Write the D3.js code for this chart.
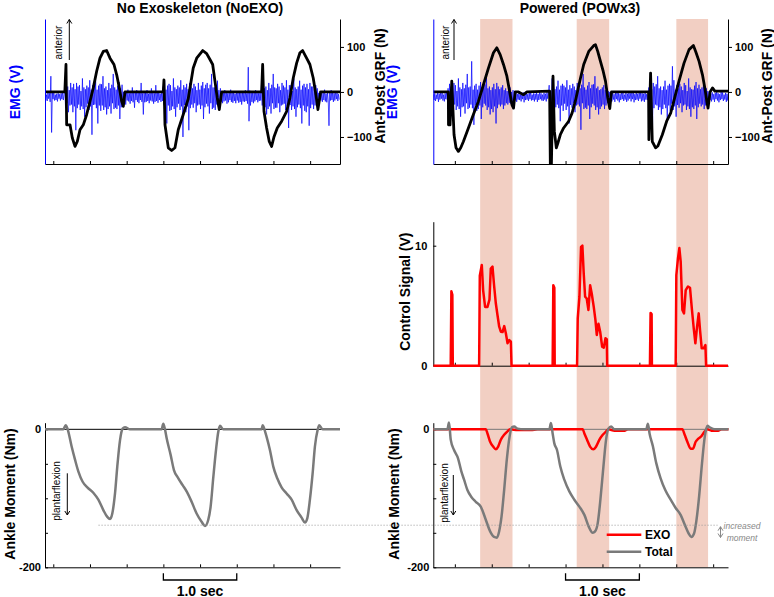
<!DOCTYPE html>
<html><head><meta charset="utf-8">
<script src="https://cdn.jsdelivr.net/npm/d3@7"></script>
<style>
body{margin:0;background:#fff;}
svg{display:block;font-family:"Liberation Sans",Arial,Helvetica,sans-serif;}
</style></head><body>
<svg id="c" width="774" height="597"></svg>
<script>
// ---------------- DATA ----------------
const panelTitles = ["No Exoskeleton (NoEXO)", "Powered (POWx3)"];
const tickTimesL = [0.113,0.613,1.113,1.613,2.113,2.613,3.113,3.613];
const tickTimesR = [0.292,0.792,1.292,1.792,2.292,2.792,3.292,3.792];
const grfTicks = [100,0,-100];
const ctrlTicks = [0,10];
const momentTicks = [0,-50,-100,-150,-200];
const momentTickLabels = ["0","","","","-200"];
const powerBands = [[0.635,1.073],[1.943,2.383],[3.293,3.723]];
const emgStep = 0.01;

// EMG (arbitrary units), one sample per 0.01 s
const emgNoExo = [
 6,-8,4,-10,9,-5,7,-12,45,-80, 8,-6,11,-9,4,-8,6,-11,7,-5, 5,-9,7,-6,10,-8,4,
 18,-25,28,-15,22,-35,14,-20,30,-18, 20,-35,28,-22,16,-75,30,-26,22,-18,
 25,-30,12,-22,40,-28,20,-45,16,-24, 24,-16,20,-30,36,-22,15,-85,25,-19,
 22,-18,35,-26,15,-60,24,-20,28,-32, 27,-20,45,-30,18,-24,22,-40,14,-28,
 30,-22,18,-38,26,-15,50,-28,20,-25, 15,-28,24,-20,32,-50,18,-24,26,-16,
 10,-14,8,-18,12,-9,15,-11,7,-16, 12,-10,20,-13,9,-25,11,-8,14,-12,
 9,-15,11,-8,30,-12,7,-40,10,-13, 8,-12,14,-10,6,-15,12,-9,18,-11,
 10,-16,7,-12,25,-10,9,-14,11,-8, 6,-12,9,-10,
 22,-18,35,-26,15,-60,24,-20,28,-32, 25,-30,12,-22,40,-28,20,-45,16,-24,
 24,-16,20,-30,36,-22,15,-90,25,-19, 20,-35,28,-22,16,-75,30,-26,22,-18,
 18,-25,28,-15,22,-35,14,-20,30,-18, 15,-28,24,-20,32,-50,18,-24,26,-16,
 30,-22,18,-38,26,-15,50,-28,20,-25, 20,-30,26,-18,35,-22,14,-26,18,
 -12,10,-15,8,-11,14,-9,12,-16,7, -13,10,-8,15,-12,9,-14,11,-10,6,
 -15,12,-9,10,-14,8,-12,11,-18,10, -11,9,-12,14,-10,7,-16,65,-55,13,
 -20,8,-12,10,-15,9,-11,14,-8,12, -13,7,-10,12,-9,
 27,-20,45,-30,18,-24,22,-40,14,-28, 30,-22,18,-38,26,-15,50,-28,20,-25,
 18,-25,28,-15,22,-35,14,-20,30,-18, 24,-16,20,-30,36,-22,15,-70,25,-19,
 25,-30,12,-22,40,-28,20,-45,16,-24, 22,-18,35,-26,15,-60,24,-20,28,-32,
 20,-35,28,-22,16,-65,30,-26,22,-18, 22,-28,16,-20,25,-15,18,
 -10,8,-14,12,-9,7,-12,10,-8,15, -11,6,-13,9,-10,-65,12,-9,14,-8,
 10,-12,7,-9,11,-6,8,-10,5,-7];
const emgPow = [
 5,-8,7,-10,4,-6,9,-12,6,-7, 8,-5,10,-9,4,-11,7,-6,9,-8,
 18,-25,28,-15,22,-35,14,-20,30,-18, 25,-30,12,-22,40,-28,20,-45,16,-24,
 30,-22,18,-38,26,-15,50,-28,20,-25, 22,-18,78,-26,15,-63,24,-20,28,-32,
 15,-28,24,-20,32,-50,18,-24,26,-16, 27,-20,45,-30,18,-24,22,-40,14,-28,
 20,-35,28,-22,16,-60,30,-26,22,-18, 16,-22,20,-18,25,-28,14,-20,18,-15,
 12,-18,15,-14,20,-16,10,-13,14,-11,
 6,-9,8,-12,5,-7,10,-8,4,-11, 7,-6,9,-13,6,-8,11,-7,5,-10,
 8,-6,12,-9,4,-8,7,-11,6,-7, 9,-12,5,-8,10,-6,7,-9,4,-10, 8,-7,6,-11,9,-5,7,
 25,-30,12,-22,40,-28,20,-45,16,-24, 22,-18,35,-26,15,-55,24,-20,28,-32,
 24,-16,20,-30,36,-22,15,-60,25,-19, 18,-25,28,-15,22,-35,14,-20,30,-18,
 30,-22,18,-74,26,-15,50,-28,20,-25, 15,-28,24,-20,32,-50,18,-24,26,-16,
 27,-20,45,-30,18,-24,22,-40,14,-28, 16,-22,20,-18,25,-28,14,-20,18,-15, 12,-16,10,
 -8,6,-11,9,-7,5,-12,8,-6,10, -9,7,-13,5,-8,11,-6,9,-10,4,
 -7,8,-12,6,-9,10,-5,7,-11,8, -6,9,-13,5,-8,12,-7,6,-10,9,
 -5,8,-11,7,-9,6,-12,10,-7,5, -8,6,
 20,-35,28,-22,16,-70,30,-26,22,-18, 27,-20,45,-30,18,-24,22,-40,14,-28,
 22,-18,35,-26,15,-55,24,-20,28,-32, 24,-16,67,-30,36,-22,15,-45,25,-19,
 18,-25,28,-15,22,-35,14,-20,30,-18, 25,-30,12,-22,40,-28,20,-45,16,-24,
 15,-28,24,-20,32,-50,18,-24,26,-16, 16,-22,20,-18,25,-28,14,-20,18,-15, 12,-16,10,
 -8,6,-11,9,-7,5,-12,8,-6,10, -9,7,-13,5,-8,11,-6,9,-10,4, -7,8,-12,6,-9,7];

// Ant-Post GRF (N): [time s, value]
const grfNoExo = [[0,0],[0.27,0],[0.286,61],[0.295,-73],[0.341,-73],[0.372,-102],[0.409,-121],[0.44,-110],[0.477,-84],[0.522,-73],[0.568,-50],[0.613,-21],[0.658,9],[0.704,46],[0.749,75],[0.795,90],[0.84,92],[0.886,75],[0.94,61],[0.977,38],[1.013,9],[1.045,-21],[1.067,-32],[1.09,0],
 [1.612,0],[1.621,27],[1.635,-73],[1.68,-124],[1.726,-130],[1.771,-124],[1.816,-84],[1.884,-50],[1.952,-15],[2.02,53],[2.067,75],[2.149,92],[2.203,85],[2.248,72],[2.285,61],[2.316,24],[2.347,-13],[2.375,-39],[2.407,0],
 [2.952,0],[2.966,61],[2.984,-43],[3.02,-80],[3.056,-110],[3.088,-121],[3.12,-100],[3.165,-80],[3.225,-65],[3.293,-43],[3.338,-13],[3.383,31],[3.429,64],[3.474,87],[3.511,92],[3.565,75],[3.61,61],[3.655,31],[3.692,-6],[3.719,-39],[3.756,0],[4.02,0]];
const grfPow = [[0,0],[0.204,0],[0.206,-73],[0.227,-73],[0.25,24],[0.264,-30],[0.281,-95],[0.308,-124],[0.34,-132],[0.372,-124],[0.408,-110],[0.476,-80],[0.543,-50],[0.611,-21],[0.679,16],[0.747,53],[0.815,87],[0.861,98],[0.906,83],[0.951,61],[0.997,35],[1.033,2],[1.065,-28],[1.087,-36],[1.11,0],[1.155,0],[1.223,-6],[1.269,0],
 [1.576,2],[1.586,-165],[1.6,-165],[1.622,35],[1.64,-87],[1.667,-124],[1.685,-115],[1.721,-95],[1.766,-80],[1.834,-65],[1.88,-47],[1.925,-20],[1.966,10],[1.993,30],[2.038,61],[2.106,90],[2.174,103],[2.197,105],[2.228,90],[2.265,68],[2.302,46],[2.333,24],[2.364,-13],[2.391,-37],[2.414,0],
 [2.917,0],[2.921,-106],[2.944,42],[2.967,-110],[3.012,-124],[3.043,-120],[3.103,-95],[3.162,-65],[3.216,-47],[3.27,-13],[3.329,24],[3.397,64],[3.465,94],[3.524,103],[3.555,90],[3.601,68],[3.647,38],[3.679,9],[3.706,-21],[3.723,-36],[3.75,0],[3.783,9],[3.815,2],[4.0,2]];

// Control signal (V)
const ctrlPow = [[0,0],[0.236,0],[0.245,6.2],[0.258,5.9],[0.264,0],
 [0.621,0],[0.63,7.5],[0.657,8.4],[0.675,6.3],[0.702,4.9],[0.734,4.9],[0.761,5.5],[0.779,8.1],[0.802,8.25],[0.825,6.6],[0.847,5.2],[0.87,4.2],[0.893,3.25],[0.915,2.83],[0.938,2.8],[0.961,3.3],[0.983,2.7],[1.006,1.87],[1.029,2.14],[1.051,2.0],[1.06,0],
 [1.617,0],[1.626,6.7],[1.64,6.5],[1.645,0],
 [1.948,0],[1.957,3.95],[1.98,5.75],[2.002,9.9],[2.02,10.0],[2.038,7.7],[2.057,5.75],[2.079,5.6],[2.102,4.64],[2.125,6.7],[2.147,6.0],[2.174,4.9],[2.197,3.8],[2.215,2.56],[2.238,3.5],[2.261,2.83],[2.288,1.58],[2.31,1.5],[2.333,2.28],[2.351,2.2],[2.356,0],
 [2.935,0],[2.944,4.4],[2.958,4.3],[2.962,0],
 [3.284,0],[3.293,7.55],[3.315,8.95],[3.334,9.8],[3.352,8.67],[3.375,4.64],[3.397,4.36],[3.42,6.3],[3.451,6.6],[3.478,6.5],[3.505,4.64],[3.529,3.1],[3.551,1.87],[3.574,3.25],[3.596,4.36],[3.614,2.97],[3.637,1.45],[3.664,1.45],[3.687,1.72],[3.696,0],[4.0,0]];

// Ankle moment (Nm)
const momentNoExo = [[0,0],[0.25,0],[0.282,6],[0.309,0],[0.363,-25],[0.409,-44],[0.454,-61],[0.513,-76],[0.577,-84],[0.658,-92],[0.727,-102],[0.795,-117],[0.849,-127],[0.886,-130],[0.917,-122],[0.954,-93],[0.985,-54],[1.022,-16],[1.058,1],[1.09,3],[1.158,0],
 [1.589,0],[1.612,8],[1.635,0],[1.658,-13],[1.712,-37],[1.757,-59],[1.817,-71],[1.876,-81],[1.93,-90],[1.998,-105],[2.066,-122],[2.134,-134],[2.18,-140],[2.225,-131],[2.257,-112],[2.294,-69],[2.33,-30],[2.362,-3],[2.384,5],[2.43,0],
 [2.952,0],[2.966,6],[2.99,0],[3.02,-11],[3.065,-30],[3.111,-54],[3.165,-71],[3.224,-84],[3.292,-93],[3.361,-102],[3.429,-117],[3.497,-128],[3.542,-135],[3.574,-129],[3.61,-102],[3.647,-64],[3.678,-25],[3.715,-1],[3.737,6],[3.783,0],[4.02,0]];
const totalPow = [[0,0],[0.19,0],[0.213,10],[0.236,-15],[0.281,-30],[0.335,-42],[0.38,-61],[0.417,-73],[0.462,-88],[0.516,-98],[0.575,-105],[0.643,-112],[0.711,-131],[0.77,-148],[0.824,-156],[0.861,-157],[0.892,-148],[0.924,-127],[0.96,-88],[0.996,-44],[1.033,-11],[1.064,3],[1.096,4],[1.141,1],[1.232,0],
 [1.572,0],[1.594,9],[1.617,-6],[1.639,-20],[1.676,-30],[1.721,-54],[1.775,-73],[1.843,-90],[1.911,-102],[1.979,-112],[2.047,-124],[2.106,-141],[2.16,-150],[2.192,-148],[2.228,-136],[2.264,-102],[2.305,-54],[2.341,-15],[2.373,1],[2.409,4],[2.455,0],
 [2.885,0],[2.908,8],[2.93,-6],[2.976,-25],[3.021,-49],[3.08,-71],[3.143,-88],[3.216,-102],[3.284,-114],[3.351,-124],[3.406,-138],[3.46,-151],[3.496,-156],[3.533,-151],[3.564,-133],[3.601,-98],[3.641,-49],[3.678,-11],[3.714,5],[3.745,3],[3.813,0],[4.0,0]];
const exoPow = [[0,0],[0.711,0],[0.734,-6],[0.77,-18],[0.811,-25],[0.847,-29],[0.879,-25],[0.915,-15],[0.96,-8],[1.005,-3],[1.042,0],[1.141,-1],[1.322,-1],[1.413,0],
 [2.024,0],[2.047,-6],[2.083,-15],[2.124,-25],[2.169,-29],[2.206,-25],[2.251,-15],[2.296,-8],[2.341,-3],[2.373,0],[2.455,-2],[2.591,-2],[2.636,0],
 [3.374,0],[3.406,-8],[3.442,-18],[3.487,-28],[3.519,-28],[3.555,-18],[3.587,-14],[3.632,-10],[3.678,-3],[3.714,0],[3.768,-2],[3.859,-2],[3.904,0],[4.0,0]];
const dottedRef = -139;

// ---------------- CHART ----------------
const svg = d3.select("#c");
const BLUE = "#0000ff", RED = "#ff0000", GREY = "#7a7a7a", BAND = "#f2cfc3";

const xL = d3.scaleLinear().domain([0,4.02]).range([45,340]);
const xR = d3.scaleLinear().domain([0,3.993]).range([433.3,728]);
const yGrf = d3.scaleLinear().domain([-160,162]).range([164,19]);
const yEmg = d3.scaleLinear().domain([-150,172]).range([164,19]);
const yCtrl = d3.scaleLinear().domain([0,12]).range([365.7,221.7]);
const yMom = d3.scaleLinear().domain([-200,9.6]).range([567.3,422.7]);

// bands
svg.append("g").selectAll("rect").data(powerBands).join("rect")
  .attr("x", d => xR(d[0])).attr("width", d => xR(d[1]) - xR(d[0]))
  .attr("y", yGrf.range()[1]).attr("height", yMom.range()[0] - yGrf.range()[1])
  .attr("fill", BAND);

const defs = svg.append("defs");
function clip(id, x, y) {
  defs.append("clipPath").attr("id", id).append("rect")
    .attr("x", x.range()[0]).attr("y", y.range()[1])
    .attr("width", x.range()[1] - x.range()[0]).attr("height", y.range()[0] - y.range()[1]);
  return "url(#" + id + ")";
}

function styleAxis(g, color) {
  g.selectAll("path.domain").attr("stroke", color || "#000").attr("stroke-width", 1);
  g.selectAll(".tick line").attr("stroke", color || "#000");
  g.selectAll("text").attr("font-family", null).attr("font-size", 11).attr("font-weight", "bold").attr("fill", "#000");
}

function vlabel(text, cx, cy, color, size, weight, style) {
  svg.append("text").attr("transform", `translate(${cx},${cy}) rotate(-90)`)
    .attr("text-anchor", "middle").attr("dy", "0.35em")
    .attr("font-size", size).attr("font-weight", weight || "bold")
    .attr("font-style", style || "normal").attr("fill", color).text(text);
}

function arrow(x, y1, y2, color, dbl) {
  const g = svg.append("g").attr("stroke", color).attr("fill", "none").attr("stroke-width", 1);
  g.append("line").attr("x1", x).attr("x2", x).attr("y1", y1).attr("y2", y2);
  const s = y2 < y1 ? 1 : -1;
  g.append("path").attr("d", `M${x-2.5},${y2+s*4}L${x},${y2}L${x+2.5},${y2+s*4}`);
  if (dbl) g.append("path").attr("d", `M${x-2.5},${y1-s*4}L${x},${y1}L${x+2.5},${y1-s*4}`);
}

// ---- top panels ----
function topPanel(x, ticks, emg, grf, id, grfLabelX, emgLabelX, titleX, title) {
  const cp = clip(id, x, yGrf);
  const emgPts = emg.map((v, i) => [i * emgStep, v]);
  svg.append("path").datum(emgPts).attr("clip-path", cp)
    .attr("fill", "none").attr("stroke", BLUE).attr("stroke-width", 0.7)
    .attr("d", d3.line().x(d => x(d[0])).y(d => yEmg(d[1])));
  svg.append("path").datum(grf).attr("clip-path", cp)
    .attr("fill", "none").attr("stroke", "#000").attr("stroke-width", 2.8)
    .attr("stroke-linejoin", "round")
    .attr("d", d3.line().x(d => x(d[0])).y(d => yGrf(d[1])));
  const gb = svg.append("g").attr("transform", `translate(0,${yGrf.range()[0]})`)
    .call(d3.axisBottom(x).tickValues(ticks).tickSize(-3).tickSizeOuter(0).tickFormat(""));
  styleAxis(gb);
  const gl = svg.append("g").attr("transform", `translate(${x.range()[0]},0)`)
    .call(d3.axisLeft(yEmg).tickValues([]).tickSizeOuter(0));
  styleAxis(gl, BLUE);
  const gr = svg.append("g").attr("transform", `translate(${x.range()[1]},0)`)
    .call(d3.axisRight(yGrf).tickValues(grfTicks).tickSize(4).tickPadding(3).tickSizeOuter(0));
  styleAxis(gr);
  vlabel("Ant-Post GRF (N)", grfLabelX, 86, "#000", 14);
  vlabel("EMG (V)", emgLabelX, 92, BLUE, 14);
  svg.append("text").attr("x", titleX).attr("y", 12.5).attr("text-anchor", "middle")
    .attr("font-size", 14).attr("font-weight", "bold").text(title);
}
topPanel(xL, tickTimesL, emgNoExo, grfNoExo, "cTL", 380, 15, 200, panelTitles[0]);
topPanel(xR, tickTimesR, emgPow, grfPow, "cTR", 767, 392, 580, panelTitles[1]);

// anterior annotations
vlabel("anterior", 58.5, 42.5, "#000", 10, "normal");
arrow(69.3, 60, 19.5, "#000");
vlabel("anterior", 445, 42.5, "#000", 10, "normal");
arrow(454, 60, 19.5, "#000");

// ---- middle panel ----
{
  const cp = clip("cM", xR, d3.scaleLinear().range([yCtrl.range()[0] + 3, yCtrl.range()[1]]));
  const gb = svg.append("g").attr("transform", `translate(0,${yCtrl.range()[0]})`)
    .call(d3.axisBottom(xR).tickValues(tickTimesR).tickSize(-3).tickSizeOuter(0).tickFormat(""));
  styleAxis(gb);
  const gl = svg.append("g").attr("transform", `translate(${xR.range()[0]},0)`)
    .call(d3.axisLeft(yCtrl).tickValues(ctrlTicks).tickSize(-3).tickPadding(6).tickSizeOuter(0));
  styleAxis(gl);
  svg.append("path").datum(ctrlPow).attr("clip-path", cp)
    .attr("fill", "none").attr("stroke", RED).attr("stroke-width", 2.5).attr("stroke-linejoin", "round")
    .attr("d", d3.line().x(d => xR(d[0])).y(d => yCtrl(d[1])));
  vlabel("Control Signal (V)", 404.7, 291.7, "#000", 14);
}

// ---- bottom panels ----
function bottomPanel(x, ticks, zeroColor, labelX) {
  svg.append("line").attr("x1", x.range()[0]).attr("x2", x.range()[1])
    .attr("y1", yMom(0)).attr("y2", yMom(0)).attr("stroke", zeroColor).attr("stroke-width", 1);
  const gb = svg.append("g").attr("transform", `translate(0,${yMom.range()[0]})`)
    .call(d3.axisBottom(x).tickValues(ticks).tickSize(-3).tickSizeOuter(0).tickFormat(""));
  styleAxis(gb);
  const gl = svg.append("g").attr("transform", `translate(${x.range()[0]},0)`)
    .call(d3.axisLeft(yMom).tickValues(momentTicks).tickSize(-3).tickPadding(4).tickSizeOuter(0)
      .tickFormat((d, i) => momentTickLabels[i]));
  styleAxis(gl);
  vlabel("Ankle Moment (Nm)", labelX, 494, "#000", 14);
  const a = x(ticks[3]), b = x(ticks[5]);
  svg.append("path").attr("d", `M${a},573.3V580H${b}V573.3`).attr("fill", "none").attr("stroke", "#000").attr("stroke-width", 1.3);
  svg.append("text").attr("x", (a + b) / 2).attr("y", 595.5).attr("text-anchor", "middle")
    .attr("font-size", 14).attr("font-weight", "bold").text("1.0 sec");
}
bottomPanel(xL, tickTimesL, "#000", 10);
bottomPanel(xR, tickTimesR, "#777", 394);

const lineM = x => d3.line().curve(d3.curveMonotoneX).x(d => x(d[0])).y(d => yMom(d[1]));
svg.append("path").datum(momentNoExo).attr("fill", "none").attr("stroke", GREY).attr("stroke-width", 2.5).attr("d", lineM(xL));
svg.append("path").datum(exoPow).attr("fill", "none").attr("stroke", RED).attr("stroke-width", 2.5).attr("d", lineM(xR));
svg.append("path").datum(totalPow).attr("fill", "none").attr("stroke", GREY).attr("stroke-width", 2.5).attr("d", lineM(xR));

svg.append("line").attr("x1", xL(0.73)).attr("x2", xR(3.85))
  .attr("y1", yMom(dottedRef)).attr("y2", yMom(dottedRef))
  .attr("stroke", "#999").attr("stroke-width", 1).attr("stroke-dasharray", "1,2");

vlabel("plantarflexion", 56.7, 491, "#000", 10, "normal");
arrow(67.3, 473.3, 515, "#000");
vlabel("plantarflexion", 444, 493, "#000", 10, "normal");
arrow(453.3, 475, 515, "#000");

arrow(720.5, 526.7, 537.5, "#888", true);
svg.append("text").attr("x", 742).attr("y", 529).attr("text-anchor", "middle")
  .attr("font-size", 8.5).attr("font-style", "italic").attr("fill", "#888").text("increased");
svg.append("text").attr("x", 742).attr("y", 540.5).attr("text-anchor", "middle")
  .attr("font-size", 8.5).attr("font-style", "italic").attr("fill", "#888").text("moment");

const legend = [{name: "EXO", color: RED, y: 534.7}, {name: "Total", color: GREY, y: 551.7}];
const lg = svg.append("g").selectAll("g").data(legend).join("g");
lg.append("line").attr("x1", 606.7).attr("x2", 641.3).attr("y1", d => d.y).attr("y2", d => d.y)
  .attr("stroke", d => d.color).attr("stroke-width", 2.5);
lg.append("text").attr("x", 645).attr("y", d => d.y).attr("dy", "0.36em")
  .attr("font-size", 12).attr("font-weight", "bold").text(d => d.name);
</script>
</body></html>
